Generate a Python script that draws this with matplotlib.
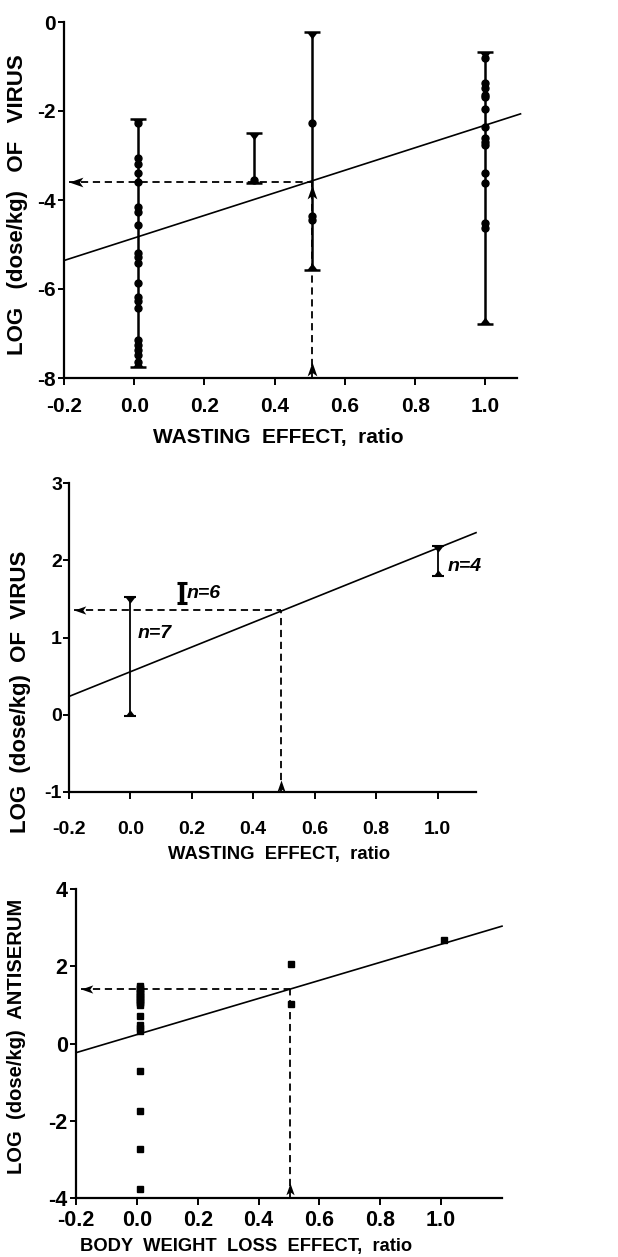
import matplotlib
matplotlib.use('Agg')
import matplotlib.pyplot as plt
from matplotlib import font_manager
import numpy as np

plt.rcParams['font.family'] = ['Liberation Sans', 'DejaVu Sans']
plt.rcParams['axes.unicode_minus'] = False

# ---------------- data ----------------
x_ticks = [-0.2, 0.0, 0.2, 0.4, 0.6, 0.8, 1.0]
x_ticklabels = ['-0.2', '0.0', '0.2', '0.4', '0.6', '0.8', '1.0']

# Panel A : virus, wasting effect (individual points + ranges)
a_yticks = [0, -2, -4, -6, -8]
a_bar_x = [0.01, 0.34, 0.505, 1.0]
a_bar_lo = [-7.75, -3.62, -5.57, -6.79]
a_bar_hi = [-2.18, -2.50, -0.23, -0.67]
a_pts_x0 = [-2.27, -3.06, -3.18, -3.40, -3.59, -4.15, -4.26, -4.56, -5.20, -5.27,
            -5.42, -5.87, -6.17, -6.28, -6.43, -7.15, -7.26, -7.37, -7.48, -7.63]
a_pts_x034 = [-3.55]
a_pts_x05 = [-2.27, -4.36, -4.45]
a_pts_x1 = [-0.82, -1.38, -1.49, -1.64, -1.68, -1.96, -2.35, -2.61, -2.70, -2.76,
            -3.39, -3.61, -4.52, -4.64]
a_fit = (-4.853, 2.535)          # intercept, slope
a_read = (0.505, -3.60)          # ED50 read-out point
a_arrow_tips = [-7.63, -3.66]

# Panel B : virus, wasting effect (group ranges)
b_yticks = [3, 2, 1, 0, -1]
b_bar_x = [0.0, 0.168, 1.0]
b_bar_lo = [-0.02, 1.45, 1.80]
b_bar_hi = [1.52, 1.70, 2.18]
b_n = ['n=7', 'n=6', 'n=4']
b_fit = (0.557, 1.60)
b_read = (0.49, 1.36)
b_arrow_tips = [-0.84]

# Panel C : antiserum, body weight loss effect
c_yticks = [4, 2, 0, -2, -4]
c_pts_x = [0.01] * 21 + [0.508, 0.508, 1.01]
c_pts_y = [1.48, 1.44, 1.40, 1.36, 1.32, 1.28, 1.24, 1.20, 1.16, 1.12, 1.08, 1.04,
           1.00, 0.71, 0.49, 0.40, 0.32, -0.71, -1.75, -2.74, -3.76,
           2.07, 1.03, 2.67]
c_fit = (0.23, 2.34)
c_read = (0.503, 1.40)
c_arrow_tips = [-3.61]

# ---------------- figure ----------------
W, H = 618, 1257
fig = plt.figure(figsize=(W / 100, H / 100), dpi=100)

names = {f.name for f in font_manager.fontManager.ttflist}
narrow = 'Liberation Sans Narrow' if 'Liberation Sans Narrow' in names else None
lab_family = [narrow, 'Liberation Sans'] if narrow else ['Liberation Sans']
lab_scale = 1.15 if narrow else 1.0


def ax_at(left, right, top, bottom):
    return fig.add_axes([left / W, 1 - bottom / H, (right - left) / W, (bottom - top) / H])


cap_down = [(-1, 0), (1, 0), (0, -1.3), (-1, 0)]
cap_up = [(-1, 0), (1, 0), (0, 1.3), (-1, 0)]
arrow_up = [(0, 0), (-0.7, -2.0), (0, -1.5), (0.7, -2.0), (0, 0)]
arrow_left = [(0, 0), (2.0, 0.7), (1.5, 0), (2.0, -0.7), (0, 0)]
dash = (0, (4, 2.6))


def style_axes(ax, xlim, ylim, yticks, fs, xpad, ypad):
    ax.set_xlim(*xlim)
    ax.set_ylim(*ylim)
    for s in ['top', 'right']:
        ax.spines[s].set_visible(False)
    for s in ['left', 'bottom']:
        ax.spines[s].set_linewidth(1.6)
    ax.set_xticks(x_ticks)
    ax.set_xticklabels(x_ticklabels)
    ax.set_yticks(yticks)
    ax.set_yticklabels([str(v) for v in yticks])
    ax.tick_params(axis='x', direction='out', length=5, width=1.4, pad=xpad,
                   labelsize=fs)
    ax.tick_params(axis='y', direction='out', length=4, width=1.4, pad=ypad,
                   labelsize=fs)
    for lab in ax.get_xticklabels() + ax.get_yticklabels():
        lab.set_fontweight('bold')
    ax.patch.set_alpha(0)


def fit_line(ax, fit, xlim):
    xs = np.array(xlim)
    ax.plot(xs, fit[0] + fit[1] * xs, color='black', lw=1.2, clip_on=False, zorder=3)


def readout(ax, read, xlim, ylim, tips, ms):
    rx, ry = read
    ax.plot([rx, rx], [ylim[0], ry], color='black', lw=1.3, ls=dash, zorder=2,
            clip_on=False)
    left = xlim[0] + 0.012 * (xlim[1] - xlim[0])
    ax.plot([left, rx], [ry, ry], color='black', lw=1.3, ls=dash, zorder=2)
    for t in tips:
        ax.plot([rx], [t], marker=arrow_up, ms=ms, color='black', mew=0, zorder=5)
    ax.plot([left], [ry], marker=arrow_left, ms=ms, color='black', mew=0, zorder=5)


def label(x, y, s, fs, rot=0):
    fig.text(x / W, 1 - y / H, s, ha='center', va='center', rotation=rot,
             fontsize=fs * lab_scale, fontweight='bold', family=lab_family)


# ---- Panel A ----
axA = ax_at(64, 517, 22, 378)
a_xlim, a_ylim = (-0.2, 1.09), (-8, 0)
style_axes(axA, a_xlim, a_ylim, a_yticks, 15, 9, 2)
fit_line(axA, a_fit, (-0.2, 1.1))
readout(axA, a_read, a_xlim, a_ylim, a_arrow_tips, 20)
axA.vlines(a_bar_x, a_bar_lo, a_bar_hi, color='black', lw=1.8, zorder=3)
axA.plot(a_bar_x, a_bar_hi, ls='none', marker=cap_down, ms=10, color='black', mew=0, zorder=4)
axA.plot(a_bar_x, a_bar_hi, ls='none', marker='_', ms=11, color='black', mew=1.8, zorder=4)
axA.plot(a_bar_x, a_bar_lo, ls='none', marker=cap_up, ms=10, color='black', mew=0, zorder=4)
axA.plot(a_bar_x, a_bar_lo, ls='none', marker='_', ms=11, color='black', mew=1.8, zorder=4)
for bx, ys in zip(a_bar_x, [a_pts_x0, a_pts_x034, a_pts_x05, a_pts_x1]):
    axA.plot([bx] * len(ys), ys, ls='none', marker='o', ms=5, color='black', zorder=4)

label(278, 437, 'WASTING  EFFECT,  ratio', 15)
label(18, 205, 'LOG   (dose/kg)   OF   VIRUS', 16, 90)

# ---- Panel B ----
axB = ax_at(69, 476, 483, 792)
b_xlim, b_ylim = (-0.2, 1.125), (-1, 3)
style_axes(axB, b_xlim, b_ylim, b_yticks, 14, 16, 1)
fit_line(axB, b_fit, b_xlim)
readout(axB, b_read, b_xlim, b_ylim, b_arrow_tips, 17)
thin = [0, 2]
bx = [b_bar_x[i] for i in thin]
blo = [b_bar_lo[i] for i in thin]
bhi = [b_bar_hi[i] for i in thin]
axB.vlines(bx, blo, bhi, color='black', lw=1.3, zorder=3)
axB.plot(bx, bhi, ls='none', marker=cap_down, ms=9, color='black', mew=0, zorder=4)
axB.plot(bx, bhi, ls='none', marker='_', ms=9, color='black', mew=1.5, zorder=4)
axB.plot(bx, blo, ls='none', marker=cap_up, ms=9, color='black', mew=0, zorder=4)
axB.plot(bx, blo, ls='none', marker='_', ms=9, color='black', mew=1.5, zorder=4)
axB.vlines([b_bar_x[1]], [b_bar_lo[1]], [b_bar_hi[1]], color='black', lw=3.2, zorder=3)
axB.plot([b_bar_x[1]] * 2, [b_bar_lo[1], b_bar_hi[1]], ls='none', marker='_', ms=7,
         color='black', mew=2.2, zorder=4)
label_frac = [0.7, 0.5, 0.3]
label_dx = [5, 3, 7]
for x, lo, hi, n, f, dx in zip(b_bar_x, b_bar_lo, b_bar_hi, b_n, label_frac, label_dx):
    axB.annotate(n, (x, lo + f * (hi - lo)), xytext=(dx, 0), textcoords='offset points',
                 ha='left', va='center', fontsize=14, fontweight='bold', style='italic')

label(279, 855, 'WASTING  EFFECT,  ratio', 13.3)
label(21, 692, 'LOG  (dose/kg)  OF  VIRUS', 16, 90)

# ---- Panel C ----
axC = ax_at(76, 502, 889, 1198)
c_xlim, c_ylim = (-0.2, 1.2), (-4, 4)
style_axes(axC, c_xlim, c_ylim, c_yticks, 15.5, 4, 2)
fit_line(axC, c_fit, c_xlim)
readout(axC, c_read, c_xlim, c_ylim, c_arrow_tips, 17)
axC.plot(c_pts_x, c_pts_y, ls='none', marker='s', ms=4.5, color='black', zorder=4)

label(246, 1246, 'BODY  WEIGHT  LOSS  EFFECT,  ratio', 13.2)
label(17, 1036, 'LOG  (dose/kg)  ANTISERUM', 14.5, 90)

fig.savefig('out.png', dpi=100)
